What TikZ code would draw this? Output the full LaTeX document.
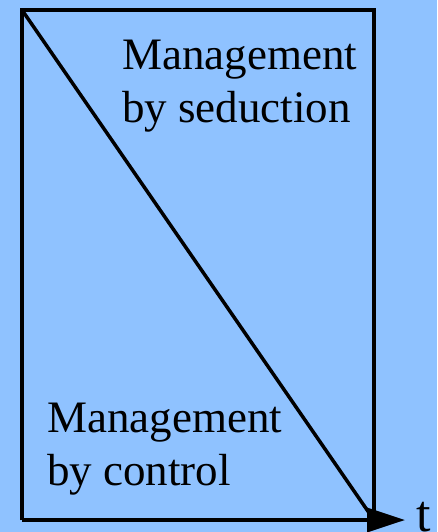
\documentclass[tikz,border=0pt]{standalone}
\usepackage{fontspec}
\setmainfont{Liberation Serif}
\usetikzlibrary{arrows.meta}
\definecolor{skyback}{RGB}{143,194,255}
\tikzset{
  mgmt/.style={anchor=base west, inner sep=0pt, align=left,
    font=\fontsize{45}{53}\selectfont},
  frame/.style={line width=3.5pt},
}
\begin{document}
\begin{tikzpicture}[x=1pt,y=-1pt]
  \fill[skyback] (0,0) rectangle (437,532);
  \useasboundingbox (0,0) rectangle (437,532);
  \coordinate (tl) at (22,10);
  \coordinate (tr) at (374,10);
  \coordinate (bl) at (22,520);
  \coordinate (br) at (374,520);
  \coordinate (tip) at (405,520);
  % labels
  \node[mgmt] (seduction) at (122,122) {Management\\by seduction};
  \node[mgmt] (control) at (47,485) {Management\\by control};
  \node[anchor=base west, inner sep=0pt, font=\fontsize{52}{60}\selectfont]
    (t) at (416,531) {t};
  \draw[frame] (bl) -- (tl) -- (tr) -- (br);
  \draw[frame] (tl) -- (br);
  \draw[frame, -{Triangle[length=38pt,width=24pt]}] (bl) -- (tip);
\end{tikzpicture}
\end{document}
